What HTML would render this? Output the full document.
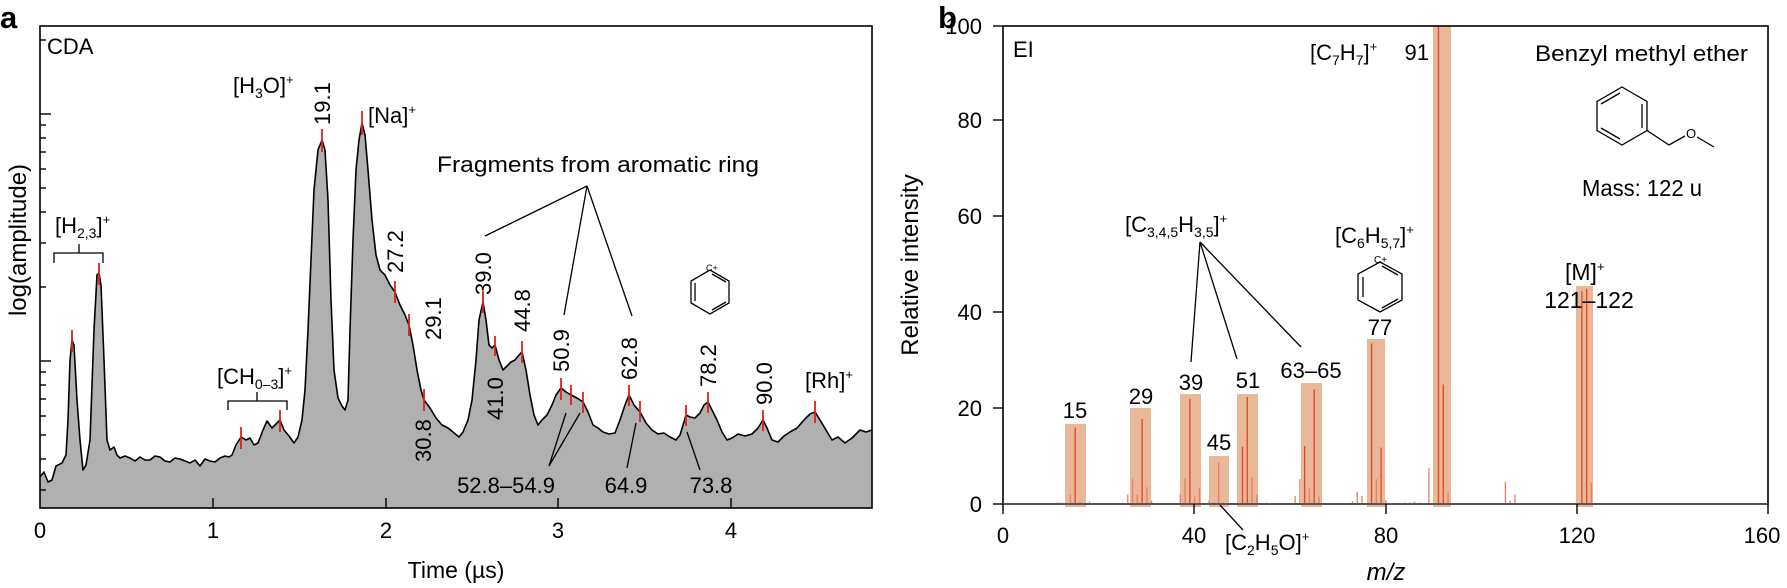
<!DOCTYPE html>
<html><head><meta charset="utf-8"><style>
html,body{margin:0;padding:0;background:#fff;}
svg{display:block;font-family:"Liberation Sans",Arial,sans-serif;}
</style></head><body>
<svg width="1787" height="588" viewBox="0 0 1787 588" xmlns="http://www.w3.org/2000/svg">
<!-- ================= PANEL A ================= -->
<text x="0" y="28" font-size="31" font-weight="bold">a</text>
<polygon fill="#b0b0b0" stroke="none" points="40,508 40,477 44,472 48,482 52,480 56,466 62,463 66,455 68,420 70,360 72,340 74,345 77,400 80,440 83,470 86,465 90,440 94,330 97,275 99,273 101,285 104,360 107,440 110,450 114,447 117,455 120,458 125,456 130,458 135,461 140,457 145,460 150,460 155,456 160,457 165,461 170,462 175,458 180,459 185,461 190,463 195,460 200,466 205,459 210,461 215,462 220,458 225,456 229,457 232,455 236,445 241,437 246,440 250,438 254,445 258,443 263,430 267,421 272,428 276,424 280,420 284,430 289,436 294,443 298,437 302,420 305,390 308,330 311,260 314,190 318,150 322,140 325,150 328,200 331,300 334,370 338,398 342,406 345,410 348,400 350,330 353,240 356,170 359,140 362,123 365,135 368,170 372,220 376,255 380,270 385,275 390,285 395,292 400,305 405,315 409,325 413,345 417,370 421,390 424,400 430,408 436,418 442,425 448,428 453,432 459,437 463,432 468,420 472,400 476,360 479,320 483,302 486,320 489,345 492,348 495,345 499,360 503,370 507,366 511,362 515,360 519,355 522,352 526,370 530,395 534,415 538,425 542,420 547,415 552,405 556,395 561,388 566,392 571,395 577,398 583,402 588,412 593,425 598,428 603,432 609,434 615,433 620,420 625,405 629,395 634,405 640,412 646,423 652,430 658,434 664,433 670,437 676,440 680,435 684,422 686,415 690,417 695,418 700,413 704,405 708,402 712,410 717,420 722,432 727,440 732,438 738,434 745,436 752,434 758,428 763,420 767,428 772,440 778,442 784,436 790,432 797,428 804,420 810,414 815,412 820,420 826,430 832,440 838,437 845,443 852,438 860,430 866,432 872,430 872,508"/>
<polyline fill="none" stroke="#000" stroke-width="1.6" stroke-linejoin="round" points="40,477 44,472 48,482 52,480 56,466 62,463 66,455 68,420 70,360 72,340 74,345 77,400 80,440 83,470 86,465 90,440 94,330 97,275 99,273 101,285 104,360 107,440 110,450 114,447 117,455 120,458 125,456 130,458 135,461 140,457 145,460 150,460 155,456 160,457 165,461 170,462 175,458 180,459 185,461 190,463 195,460 200,466 205,459 210,461 215,462 220,458 225,456 229,457 232,455 236,445 241,437 246,440 250,438 254,445 258,443 263,430 267,421 272,428 276,424 280,420 284,430 289,436 294,443 298,437 302,420 305,390 308,330 311,260 314,190 318,150 322,140 325,150 328,200 331,300 334,370 338,398 342,406 345,410 348,400 350,330 353,240 356,170 359,140 362,123 365,135 368,170 372,220 376,255 380,270 385,275 390,285 395,292 400,305 405,315 409,325 413,345 417,370 421,390 424,400 430,408 436,418 442,425 448,428 453,432 459,437 463,432 468,420 472,400 476,360 479,320 483,302 486,320 489,345 492,348 495,345 499,360 503,370 507,366 511,362 515,360 519,355 522,352 526,370 530,395 534,415 538,425 542,420 547,415 552,405 556,395 561,388 566,392 571,395 577,398 583,402 588,412 593,425 598,428 603,432 609,434 615,433 620,420 625,405 629,395 634,405 640,412 646,423 652,430 658,434 664,433 670,437 676,440 680,435 684,422 686,415 690,417 695,418 700,413 704,405 708,402 712,410 717,420 722,432 727,440 732,438 738,434 745,436 752,434 758,428 763,420 767,428 772,440 778,442 784,436 790,432 797,428 804,420 810,414 815,412 820,420 826,430 832,440 838,437 845,443 852,438 860,430 866,432 872,430"/>
<g stroke="#e0201a" stroke-width="1.8">
<line x1="72" y1="330" x2="72" y2="352"/><line x1="99" y1="263" x2="99" y2="285"/>
<line x1="241" y1="427" x2="241" y2="449"/><line x1="280" y1="410" x2="280" y2="432"/>
<line x1="322" y1="129" x2="322" y2="152"/><line x1="362" y1="111" x2="362" y2="135"/>
<line x1="395" y1="281" x2="395" y2="303"/><line x1="409" y1="314" x2="409" y2="336"/>
<line x1="424" y1="389" x2="424" y2="411"/><line x1="483" y1="291" x2="483" y2="313"/>
<line x1="495" y1="336" x2="495" y2="356"/><line x1="522" y1="341" x2="522" y2="363"/>
<line x1="561" y1="378" x2="561" y2="400"/><line x1="571" y1="385" x2="571" y2="405"/>
<line x1="583" y1="392" x2="583" y2="413"/><line x1="629" y1="385" x2="629" y2="406"/>
<line x1="640" y1="401" x2="640" y2="422"/><line x1="686" y1="405" x2="686" y2="426"/>
<line x1="708" y1="392" x2="708" y2="413"/><line x1="763" y1="410" x2="763" y2="431"/>
<line x1="815" y1="401" x2="815" y2="423"/>
</g>
<rect x="40" y="26" width="832" height="482" fill="none" stroke="#000" stroke-width="1.6"/>
<g stroke="#000" stroke-width="1.4">
<line x1="213" y1="508" x2="213" y2="498"/><line x1="386" y1="508" x2="386" y2="498"/>
<line x1="558" y1="508" x2="558" y2="498"/><line x1="731" y1="508" x2="731" y2="498"/>
<line x1="40" y1="40" x2="46" y2="40"/>
<line x1="40" y1="114" x2="51" y2="114"/><line x1="40" y1="125" x2="46" y2="125"/><line x1="40" y1="138" x2="46" y2="138"/><line x1="40" y1="152" x2="46" y2="152"/><line x1="40" y1="169" x2="46" y2="169"/><line x1="40" y1="188" x2="46" y2="188"/><line x1="40" y1="212" x2="46" y2="212"/><line x1="40" y1="243" x2="46" y2="243"/><line x1="40" y1="287" x2="46" y2="287"/>
<line x1="40" y1="361" x2="51" y2="361"/><line x1="40" y1="372" x2="46" y2="372"/><line x1="40" y1="385" x2="46" y2="385"/><line x1="40" y1="399" x2="46" y2="399"/><line x1="40" y1="416" x2="46" y2="416"/><line x1="40" y1="435" x2="46" y2="435"/><line x1="40" y1="459" x2="46" y2="459"/><line x1="40" y1="490" x2="46" y2="490"/>
</g>
<g font-size="22" text-anchor="middle">
<text x="40" y="538">0</text><text x="213" y="538">1</text><text x="386" y="538">2</text><text x="558" y="538">3</text><text x="731" y="538">4</text>
</g>
<text x="456" y="578" font-size="23" text-anchor="middle">Time (µs)</text>
<text transform="translate(26,240) rotate(-90)" font-size="24" text-anchor="middle">log(amplitude)</text>
<text x="47" y="54" font-size="22">CDA</text>
<g font-size="22">
<text x="233" y="93">[H<tspan font-size="14" dy="5">3</tspan><tspan dy="-5">O]</tspan><tspan font-size="13" dy="-9">+</tspan></text>
<text x="368" y="123">[Na]<tspan font-size="13" dy="-9">+</tspan></text>
<text x="55" y="233">[H<tspan font-size="14" dy="5">2,3</tspan><tspan dy="-5">]</tspan><tspan font-size="13" dy="-9">+</tspan></text>
<text x="217" y="384">[CH<tspan font-size="14" dy="5">0–3</tspan><tspan dy="-5">]</tspan><tspan font-size="13" dy="-9">+</tspan></text>
<text x="805" y="388">[Rh]<tspan font-size="13" dy="-9">+</tspan></text>
<text x="437" y="172" textLength="322" lengthAdjust="spacingAndGlyphs">Fragments from aromatic ring</text>
<text x="506" y="493" text-anchor="middle">52.8–54.9</text>
<text x="626" y="493" text-anchor="middle">64.9</text>
<text x="711" y="493" text-anchor="middle">73.8</text>
</g>
<g font-size="22">
<text transform="translate(330,125) rotate(-90)">19.1</text>
<text transform="translate(403,273) rotate(-90)">27.2</text>
<text transform="translate(441,340) rotate(-90)">29.1</text>
<text transform="translate(431,462) rotate(-90)">30.8</text>
<text transform="translate(491,295) rotate(-90)">39.0</text>
<text transform="translate(503,420) rotate(-90)">41.0</text>
<text transform="translate(530,332) rotate(-90)">44.8</text>
<text transform="translate(569,372) rotate(-90)">50.9</text>
<text transform="translate(637,380) rotate(-90)">62.8</text>
<text transform="translate(716,387) rotate(-90)">78.2</text>
<text transform="translate(772,405) rotate(-90)">90.0</text>
</g>
<g stroke="#000" stroke-width="1.3" fill="none">
<polyline points="54,263 54,253 103,253 103,263"/><line x1="79" y1="253" x2="79" y2="244"/>
<polyline points="228,410 228,401 287,401 287,410"/><line x1="257" y1="401" x2="257" y2="392"/>
<line x1="587" y1="186" x2="485" y2="236"/><line x1="587" y1="186" x2="564" y2="315"/><line x1="587" y1="186" x2="632" y2="316"/>
<line x1="566" y1="413" x2="549" y2="466"/><line x1="580" y1="413" x2="549" y2="466"/>
<line x1="636" y1="423" x2="627" y2="468"/><line x1="687" y1="432" x2="700" y2="470"/>
<polygon points="710,270 729,281 729,303 710,314 691,303 691,281"/>
<line x1="695" y1="283" x2="695" y2="301"/><line x1="712" y1="274" x2="726" y2="282"/><line x1="712" y1="310" x2="726" y2="302"/>
</g>
<text x="706" y="271" font-size="9">C+</text>

<!-- ================= PANEL B ================= -->
<text x="938" y="28" font-size="31" font-weight="bold">b</text>
<g fill="#e8b898">
<rect x="1065" y="424" width="21" height="83"/>
<rect x="1130" y="408" width="21" height="99"/>
<rect x="1180" y="394" width="21" height="113"/>
<rect x="1209" y="456" width="20" height="51"/>
<rect x="1237" y="394" width="21" height="113"/>
<rect x="1301" y="383" width="21" height="124"/>
<rect x="1367" y="339" width="18" height="168"/>
<rect x="1433" y="26" width="18" height="481"/>
<rect x="1576" y="286" width="17" height="221"/>
</g>
<g stroke="#e0452a" stroke-width="1.3" id="reds"></g>
<rect x="1003" y="26" width="765" height="478" fill="none" stroke="#000" stroke-width="1.6"/>
<line x1="1003" y1="504" x2="1768" y2="504" stroke="#555" stroke-width="2"/>
<g stroke="#000" stroke-width="1.4">
<line x1="993" y1="504" x2="1003" y2="504"/><line x1="993" y1="408" x2="1003" y2="408"/><line x1="993" y1="312" x2="1003" y2="312"/><line x1="993" y1="216" x2="1003" y2="216"/><line x1="993" y1="120" x2="1003" y2="120"/><line x1="993" y1="26" x2="1003" y2="26"/>
<line x1="1003" y1="504" x2="1003" y2="514"/><line x1="1194" y1="504" x2="1194" y2="514"/><line x1="1386" y1="504" x2="1386" y2="514"/><line x1="1577" y1="504" x2="1577" y2="514"/><line x1="1768" y1="504" x2="1768" y2="514"/>
</g>
<g font-size="22" text-anchor="end">
<text x="982" y="512">0</text><text x="982" y="416">20</text><text x="982" y="320">40</text><text x="982" y="224">60</text><text x="982" y="128">80</text><text x="982" y="34">100</text>
</g>
<g font-size="22" text-anchor="middle">
<text x="1003" y="543">0</text><text x="1194" y="543">40</text><text x="1386" y="543">80</text><text x="1577" y="543">120</text><text x="1762" y="543">160</text>
</g>
<text x="1386" y="580" font-size="24" font-style="italic" text-anchor="middle">m/z</text>
<text transform="translate(918,265) rotate(-90)" font-size="24" text-anchor="middle">Relative intensity</text>
<text x="1013" y="57" font-size="22">EI</text>
<g font-size="22">
<text x="1310" y="60">[C<tspan font-size="14" dy="5">7</tspan><tspan dy="-5">H</tspan><tspan font-size="14" dy="5">7</tspan><tspan dy="-5">]</tspan><tspan font-size="13" dy="-9">+</tspan></text>
<text x="1429" y="60" text-anchor="end">91</text>
<text x="1748" y="61" text-anchor="end" textLength="213" lengthAdjust="spacingAndGlyphs">Benzyl methyl ether</text>
<text x="1642" y="196" text-anchor="middle" font-size="23" textLength="120" lengthAdjust="spacingAndGlyphs">Mass: 122 u</text>
<text x="1125" y="232">[C<tspan font-size="14" dy="5">3,4,5</tspan><tspan dy="-5">H</tspan><tspan font-size="14" dy="5">3,5</tspan><tspan dy="-5">]</tspan><tspan font-size="13" dy="-9">+</tspan></text>
<text x="1335" y="243">[C<tspan font-size="14" dy="5">6</tspan><tspan dy="-5">H</tspan><tspan font-size="14" dy="5">5,7</tspan><tspan dy="-5">]</tspan><tspan font-size="13" dy="-9">+</tspan></text>
<text x="1565" y="280" font-size="23">[M]<tspan font-size="13" dy="-9">+</tspan></text>
<text x="1589" y="308" text-anchor="middle" font-size="23">121–122</text>
<text x="1380" y="335" text-anchor="middle">77</text>
<text x="1075" y="418" text-anchor="middle">15</text>
<text x="1141" y="404" text-anchor="middle">29</text>
<text x="1191" y="390" text-anchor="middle">39</text>
<text x="1219" y="450" text-anchor="middle">45</text>
<text x="1248" y="388" text-anchor="middle">51</text>
<text x="1311" y="378" text-anchor="middle">63–65</text>
<text x="1225" y="550">[C<tspan font-size="14" dy="5">2</tspan><tspan dy="-5">H</tspan><tspan font-size="14" dy="5">5</tspan><tspan dy="-5">O]</tspan><tspan font-size="13" dy="-9">+</tspan></text>
</g>
<g stroke="#000" stroke-width="1.3" fill="none">
<line x1="1200" y1="242" x2="1191" y2="362"/><line x1="1200" y1="242" x2="1237" y2="359"/><line x1="1200" y1="242" x2="1301" y2="347"/>
<line x1="1220" y1="505" x2="1243" y2="530"/>
<polygon points="1380,262 1402,274 1402,300 1380,312 1358,300 1358,274"/>
<line x1="1363" y1="277" x2="1363" y2="297"/><line x1="1382" y1="266" x2="1398" y2="275"/><line x1="1382" y1="308" x2="1398" y2="299"/>
<polygon points="1622,87 1647,101.5 1647,130.5 1622,145 1597,130.5 1597,101.5"/>
<line x1="1642" y1="104" x2="1642" y2="128"/><line x1="1601" y1="104" x2="1620" y2="93"/><line x1="1601" y1="128" x2="1620" y2="139"/>
<polyline points="1647,130.5 1669,145 1685,136"/><line x1="1697" y1="137" x2="1714" y2="147"/>
</g>
<text x="1691" y="138" font-size="13" text-anchor="middle">O</text>
<text x="1374" y="263" font-size="10">C+</text>
<script>
(function(){
var d=[[11,.3],[11.5,.3],[12,.3],[13,.3],[14,2],[15,16],[16,.5],[17,.3],[18,.5],
[25,.3],[26,2],[27,5.4],[28,2],[29,17.8],[30,3.5],[31,.7],
[37,2.1],[38,5.4],[39,22],[40,1.6],[41,3.3],[43,.7],[44,.3],[45,8.7],[46,.3],
[49,.3],[50,12],[51,22.4],[52,5.6],[53,2],[55,.3],
[61,1.7],[62,5.2],[63,12.1],[64,3.3],[65,24],[66,1.6],[67,.3],
[73,.6],[74,2.6],[75,1.7],[77,33.6],[78,5.2],[79,11.8],[80,.8],
[84,.3],[85,.3],[86,.5],[87,.3],[89,7.5],[91,100],[92,25],[93,2.5],
[105,4.6],[106,.7],[107,2],[121,44.5],[122,45],[123,4.4]];
var g=document.getElementById('reds'),ns='http://www.w3.org/2000/svg';
d.forEach(function(p){var x=1003.5+p[0]*4.78;var l=document.createElementNS(ns,'line');
l.setAttribute('x1',x);l.setAttribute('x2',x);l.setAttribute('y1',504);l.setAttribute('y2',Math.max(26,504-p[1]*4.78));
if(p[1]<9)l.setAttribute('stroke','#ee7a62');g.appendChild(l);});
})();
</script>
</svg>
</body></html>
